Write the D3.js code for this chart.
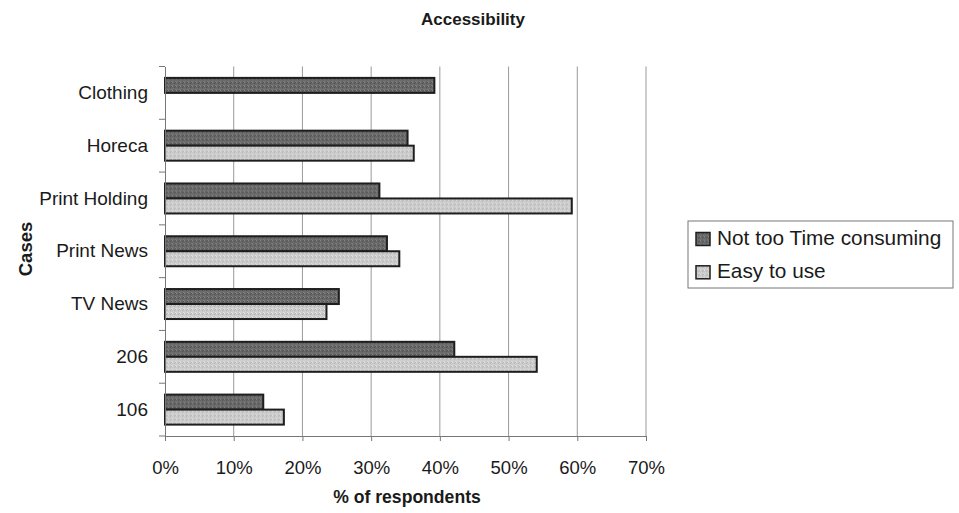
<!DOCTYPE html>
<html>
<head>
<meta charset="utf-8">
<script src="https://cdn.jsdelivr.net/npm/d3@7"></script>
<style>
  html, body { margin: 0; padding: 0; background: #fff; }
  svg { display: block; font-family: "Liberation Sans", Arial, sans-serif; }
</style>
</head>
<body>
<svg id="chart" width="959" height="513"></svg>
<script>
// Survey cases (top to bottom) and the share of respondents per criterion
const cases = ["Clothing", "Horeca", "Print Holding", "Print News", "TV News", "206", "106"];
const seriesNames = ["Not too Time consuming", "Easy to use"];
const notTooTimeConsuming = [0.392, 0.353, 0.312, 0.323, 0.253, 0.421, 0.143];
const easyToUse = [0, 0.362, 0.592, 0.341, 0.235, 0.541, 0.173];
const xTicks = [0, 0.1, 0.2, 0.3, 0.4, 0.5, 0.6, 0.7];

const seriesValues = [notTooTimeConsuming, easyToUse];
const fills = ["url(#texDark)", "url(#texLight)"];

const svg = d3.select("#chart");

// Grainy fills for the two series
const defs = svg.append("defs");
function texture(id, base, shades) {
  const p = defs.append("pattern").attr("id", id)
    .attr("patternUnits", "userSpaceOnUse").attr("width", 4).attr("height", 4);
  p.append("rect").attr("width", 4).attr("height", 4).attr("fill", base);
  const cells = [[0,0],[2,1],[1,2],[3,3],[3,0],[0,3]];
  cells.forEach((c, i) => {
    p.append("rect").attr("x", c[0]).attr("y", c[1]).attr("width", 1).attr("height", 1)
      .attr("fill", shades[i % shades.length]);
  });
}
texture("texDark", "#666666", ["#858585", "#505050", "#767676"]);
texture("texLight", "#c9c9c9", ["#e0e0e0", "#b3b3b3", "#d6d6d6"]);

const plotLeft = 165, plotRight = 646, plotTop = 66.5, plotBottom = 436;

const x = d3.scaleLinear().domain([0, 0.7]).range([plotLeft, plotRight]);
const y = d3.scaleBand().domain(cases).range([plotTop, plotBottom]).padding(0);
const groupH = 30;
const ySub = d3.scaleBand().domain(seriesNames).range([0, groupH]).padding(0);

// Title
svg.append("text").attr("x", 473).attr("y", 25).attr("text-anchor", "middle")
  .attr("font-size", 17).attr("font-weight", "bold").attr("fill", "#1a1a1a")
  .text("Accessibility");

// Vertical gridlines
svg.append("g").selectAll("line").data(xTicks.slice(1)).join("line")
  .attr("x1", d => x(d)).attr("x2", d => x(d))
  .attr("y1", plotTop).attr("y2", plotBottom)
  .attr("stroke", "#9a9a9a").attr("stroke-width", 1);

// Bars
const groups = svg.append("g").selectAll("g").data(cases).join("g")
  .attr("transform", c => `translate(0,${y(c) + y.bandwidth() / 2 - groupH / 2})`);
seriesNames.forEach((s, si) => {
  groups.filter((c, i) => seriesValues[si][i] > 0)
    .append("rect")
    .attr("x", x(0))
    .attr("y", ySub(s))
    .attr("height", ySub.bandwidth())
    .attr("width", c => x(seriesValues[si][cases.indexOf(c)]) - x(0))
    .attr("fill", fills[si])
    .attr("stroke", "#1e1e1e").attr("stroke-width", 2);
});

// Category axis
const yAxis = svg.append("g").attr("transform", `translate(${plotLeft},0)`)
  .call(d3.axisLeft(y).tickSize(0).tickPadding(17));
yAxis.select(".domain").attr("stroke", "#777");
yAxis.selectAll("text").attr("font-size", 19).attr("fill", "#1a1a1a")
  .attr("font-family", "Liberation Sans, Arial, sans-serif");
// Boundary ticks between categories
const bounds = cases.map(c => y(c)).concat([plotBottom]);
svg.append("g").selectAll("line").data(bounds).join("line")
  .attr("x1", plotLeft - 6).attr("x2", plotLeft).attr("y1", d => d).attr("y2", d => d)
  .attr("stroke", "#777");

// Value axis
const xAxis = svg.append("g").attr("transform", `translate(0,${plotBottom})`)
  .call(d3.axisBottom(x).tickValues(xTicks).tickFormat(d3.format(".0%"))
    .tickSizeInner(5).tickSizeOuter(0).tickPadding(20));
xAxis.select(".domain").attr("stroke", "#777");
xAxis.selectAll(".tick line").attr("stroke", "#777");
xAxis.selectAll("text").attr("font-size", 18.5).attr("fill", "#1a1a1a")
  .attr("font-family", "Liberation Sans, Arial, sans-serif");

// Axis titles
svg.append("text").attr("x", 407).attr("y", 503).attr("text-anchor", "middle")
  .attr("font-size", 17.6).attr("font-weight", "bold").attr("fill", "#1a1a1a")
  .text("% of respondents");
svg.append("text").attr("transform", "translate(32,249) rotate(-90)")
  .attr("text-anchor", "middle")
  .attr("font-size", 18.5).attr("font-weight", "bold").attr("fill", "#1a1a1a")
  .text("Cases");

// Legend
const legend = svg.append("g").attr("transform", "translate(688,221)");
legend.append("rect").attr("width", 265).attr("height", 67)
  .attr("fill", "#fff").attr("stroke", "#777").attr("stroke-width", 1);
seriesNames.forEach((s, i) => {
  const g = legend.append("g").attr("transform", `translate(8,${11.5 + i * 33.3})`);
  g.append("rect").attr("width", 14).attr("height", 13)
    .attr("fill", fills[i]).attr("stroke", "#1e1e1e").attr("stroke-width", 1.5);
  g.append("text").attr("x", 21).attr("y", 12.5).attr("font-size", 20.8)
    .attr("fill", "#1a1a1a").text(s);
});
</script>
</body>
</html>
